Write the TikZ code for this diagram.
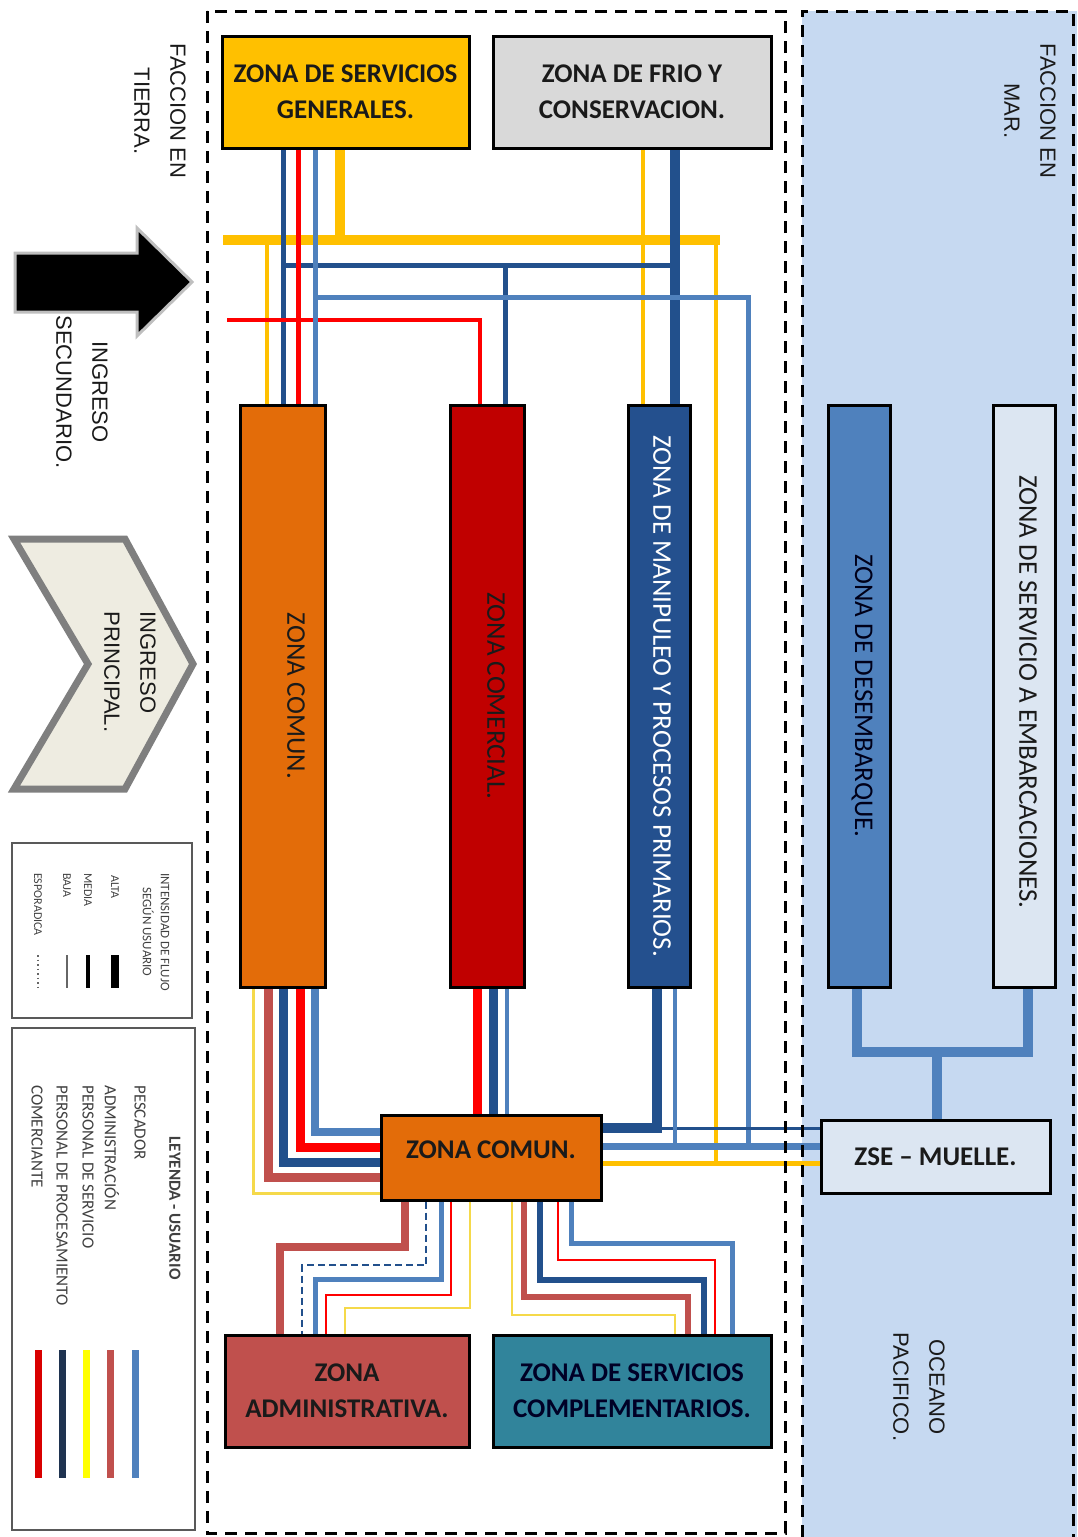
\documentclass[tikz,border=0pt]{standalone}
\usepackage{fontspec}
\setmainfont{Carlito}
\newfontfamily\arialf{Liberation Sans}
\definecolor{cnavy}{HTML}{22508C}
\definecolor{cblue}{HTML}{4F81BD}
\definecolor{cred}{HTML}{FF0000}
\definecolor{cyel}{HTML}{FFC000}
\definecolor{cyelt}{HTML}{F5D94A}
\definecolor{cbrn}{HTML}{C0504D}
\definecolor{corange}{HTML}{E36C09}
\definecolor{cdred}{HTML}{C00000}
\definecolor{cdblue}{HTML}{24508E}
\definecolor{cpale}{HTML}{DCE6F2}
\definecolor{csea}{HTML}{C6D9F1}
\definecolor{cteal}{HTML}{31849B}
\definecolor{cgrey}{HTML}{D9D9D9}
\definecolor{cchev}{HTML}{EEECE1}
\definecolor{cchevb}{HTML}{7F7F7F}
\definecolor{clegnavy}{HTML}{1F3350}
\definecolor{clegyel}{HTML}{FFFF00}
\definecolor{ctext}{HTML}{1A1A1A}
\definecolor{clegt}{HTML}{404040}
\definecolor{clegb}{HTML}{595959}
\pgfdeclarelayer{bg}
\pgfdeclarelayer{lines}
\pgfsetlayers{bg,lines,main}
\newcommand{\bxfont}{\fontsize{27}{36}\selectfont\bfseries}
\newcommand{\vxfont}{\fontsize{27}{32}\selectfont}
\newcommand{\sidefont}{\arialf\fontsize{22}{36}\selectfont}
\newcommand{\legfont}{\fontsize{17}{20}\selectfont}
\newcommand{\legsmall}{\fontsize{12}{18}\selectfont}
\newcommand{\legtitle}{\fontsize{13}{18}\selectfont}
\tikzset{
  zbox/.style={draw=black, line width=3pt, inner sep=0pt, align=center, font=\bxfont, text=ctext},
  vbox/.style={draw=black, line width=3pt, inner sep=0pt},
  vlab/.style={rotate=-90, inner sep=0pt, font=\vxfont, text=ctext},
  sidelab/.style={rotate=-90, inner sep=0pt, align=center, font=\sidefont, text=ctext},
  framedash/.style={line width=3pt, dash pattern=on 12pt off 8pt},
  legitem/.style={rotate=-90, anchor=west, inner sep=0pt, font=\legfont, text=clegt},
  legsm/.style={rotate=-90, anchor=west, inner sep=0pt, font=\legsmall, text=clegt},
  flow/.style={line join=miter, line cap=butt},
}
\begin{document}
\begin{tikzpicture}[x=1pt,y=-1pt]
\useasboundingbox (0,0) rectangle (1078,1537);

% sea background
\begin{pgfonlayer}{bg}
\fill[csea] (802,11) rectangle (1077,1537);
\end{pgfonlayer}

% ---------- boxes ----------
\node[zbox, fill=cyel, minimum width=247pt, minimum height=112pt] (zsg) at (345.5,92) {ZONA DE SERVICIOS\\GENERALES.};
\node[zbox, fill=cgrey, minimum width=278pt, minimum height=112pt] (frio) at (632,92) {ZONA DE FRIO Y\\CONSERVACION.};
\node[vbox, fill=corange, minimum width=85pt, minimum height=582pt] (zc1) at (282.5,696) {};
\node[vbox, fill=cdred, minimum width=74pt, minimum height=582pt] (zcom) at (487,696) {};
\node[vbox, fill=cdblue, minimum width=62pt, minimum height=582pt] (zman) at (659,696) {};
\node[vbox, fill=cblue, minimum width=62pt, minimum height=582pt] (zdes) at (859,696) {};
\node[vbox, fill=cpale, minimum width=62pt, minimum height=582pt] (zemb) at (1024,696) {};
\node[vlab] (zc1t) at (296,696) {ZONA COMUN.};
\node[vlab] (zcomt) at (496,696) {ZONA COMERCIAL.};
\node[vlab, text=white] (zmant) at (662,696) {ZONA DE MANIPULEO Y PROCESOS PRIMARIOS.};
\node[vlab, text=black!90!blue] (zdest) at (862,696) {ZONA DE DESEMBARQUE.};
\node[vlab] (zembt) at (1028,692) {ZONA DE SERVICIO A EMBARCACIONES.};
\node[zbox, fill=corange, minimum width=220pt, minimum height=85pt] (zc2) at (491,1157.5) {\raisebox{-1pt}[0pt][0pt]{ZONA COMUN.}};
\node[zbox, fill=cpale, minimum width=229pt, minimum height=73pt] (zse) at (935.5,1156.5) {ZSE -- MUELLE.};
\node[zbox, fill=cbrn, minimum width=244pt, minimum height=112pt] (zadm) at (347,1391) {ZONA\\ADMINISTRATIVA.};
\node[zbox, fill=cteal, minimum width=278pt, minimum height=112pt, text=black!85!blue] (zsc) at (632,1391) {ZONA DE SERVICIOS\\COMPLEMENTARIOS.};

% ---------- connectors ----------
\coordinate (entY) at (223,240);
\coordinate (entR) at (227,320);
\coordinate (sj) at (937,1052);
\begin{pgfonlayer}{lines}
\begin{scope}[flow]
% top
\draw[cyel, line width=10pt] (entY) -- (720,240);
\draw[cyel, line width=10pt] (340,0 |- zsg.south) -- (340,240);
\draw[cyel, line width=4pt] (267,240) -- (267,0 |- zc1.north);
\draw[cyel, line width=4pt] (716,240) -- (716,1163);
\draw[cyel, line width=4pt] (643,0 |- frio.south) -- (643,0 |- zman.north);
\draw[cnavy, line width=10pt] (675,0 |- frio.south) -- (675,0 |- zman.north);
\draw[cnavy, line width=5pt] (283,0 |- zsg.south) -- (283,0 |- zc1.north);
\draw[cnavy, line width=5pt] (283,265) -- (675,265);
\draw[cnavy, line width=5pt] (505,265) -- (505,0 |- zcom.north);
\draw[cred, line width=5pt] (298,0 |- zsg.south) -- (298,0 |- zc1.north);
\draw[cred, line width=4pt] (entR) -| (480,0 |- zcom.north);
\draw[cblue, line width=5pt] (315,0 |- zsg.south) -- (315,0 |- zc1.north);
\draw[cblue, line width=5pt] (315,297) -| (748,1146);
% middle
\draw[cyelt, line width=3pt] (253,0 |- zc1.south) |- (zc2.west |- 0,1193);
\draw[cbrn, line width=9pt] (268,0 |- zc1.south) |- (zc2.west |- 0,1177);
\draw[cnavy, line width=9pt] (283,0 |- zc1.south) |- (zc2.west |- 0,1162);
\draw[cred, line width=9pt] (300,0 |- zc1.south) |- (zc2.west |- 0,1147);
\draw[cblue, line width=8pt] (315,0 |- zc1.south) |- (zc2.west |- 0,1132);
\draw[cred, line width=9pt] (477,0 |- zcom.south) -- (477,0 |- zc2.north);
\draw[cnavy, line width=9pt] (493,0 |- zcom.south) -- (493,0 |- zc2.north);
\draw[cblue, line width=4pt] (507,0 |- zcom.south) -- (507,0 |- zc2.north);
\draw[cnavy, line width=10pt] (657,0 |- zman.south) |- (zc2.east |- 0,1128);
\draw[cnavy, line width=3pt] (zc2.east |- 0,1128) -- (zse.west |- 0,1128);
\draw[cblue, line width=4pt] (675,0 |- zman.south) -- (675,1146);
\draw[cblue, line width=7pt] (zc2.east |- 0,1146) -- (zse.west |- 0,1146);
\draw[cyel, line width=5pt] (zc2.east |- 0,1163) -- (zse.west |- 0,1163);
% sea
\draw[cblue, line width=10pt] (857,0 |- zdes.south) |- (sj) -| (1028,0 |- zemb.south);
\draw[cblue, line width=10pt] (sj) -- (937,0 |- zse.north);
% bottom to administrativa
\draw[cbrn, line width=8pt] (405,0 |- zc2.south) |- (280,1247) -- (280,0 |- zadm.north);
\draw[cnavy, line width=2.5pt, dash pattern=on 7pt off 4pt] (426,0 |- zc2.south) |- (302,1265) -- (302,0 |- zadm.north);
\draw[cblue, line width=5pt] (441,0 |- zc2.south) |- (315,1279) -- (315,0 |- zadm.north);
\draw[cred, line width=2.5pt] (451,0 |- zc2.south) |- (326,1295) -- (326,0 |- zadm.north);
\draw[cyelt, line width=2pt] (470,0 |- zc2.south) |- (345,1308) -- (345,0 |- zadm.north);
% bottom to servicios complementarios
\draw[cyelt, line width=2pt] (512,0 |- zc2.south) |- (675,1315) -- (675,0 |- zsc.north);
\draw[cbrn, line width=6pt] (524,0 |- zc2.south) |- (688,1297) -- (688,0 |- zsc.north);
\draw[cnavy, line width=6pt] (540,0 |- zc2.south) |- (704,1280) -- (704,0 |- zsc.north);
\draw[cred, line width=2.5pt] (558,0 |- zc2.south) |- (715,1260) -- (715,0 |- zsc.north);
\draw[cblue, line width=5pt] (571,0 |- zc2.south) |- (732,1243) -- (732,0 |- zsc.north);
\end{scope}
\end{pgfonlayer}

% ---------- frames ----------
\draw[framedash] (207,11) rectangle (785,1533);
\draw[framedash] (802,1537) -- (802,11) -- (1073,11) -- (1073,1537);

% ---------- side labels ----------
\node[sidelab] (tierra) at (160,111) {FACCION EN\\TIERRA.};
\node[sidelab] (mar) at (1030,111) {FACCION EN\\MAR.};
\node[sidelab] (oceano) at (919,1387) {OCEANO\\PACIFICO.};

% secondary entrance arrow
\draw[draw=black!25, line width=3pt, fill=black, line join=miter]
  (15,253) -- (137,253) -- (137,228) -- (192,282) -- (137,336) -- (137,312) -- (15,312) -- cycle;
\node[sidelab] (ingsec) at (82,392) {INGRESO\\SECUNDARIO.};

% main entrance chevron
\draw[draw=cchevb, line width=7pt, fill=cchev, line join=miter]
  (14,539) -- (125,539) -- (193,664) -- (125,789) -- (14,789) -- (88,664) -- cycle;
\node[sidelab, align=left] (ingpri) at (130,672) {INGRESO\\PRINCIPAL.};

% ---------- legend 1 ----------
\node[draw=clegb, line width=2.5pt, minimum width=180pt, minimum height=175pt, inner sep=0pt] (leg1) at (102,930.5) {};
\node[rotate=-90, inner sep=0pt, align=center, font=\legtitle, text=clegt] (leg1t) at (156,932) {INTENSIDAD DE FLUJO\\SEGÚN USUARIO};
\node[legsm] (lalta) at (115,875) {ALTA};
\node[legsm] (lmedia) at (88,873) {MEDIA};
\node[legsm] (lbaja) at (67,873) {BAJA};
\node[legsm] (lesp) at (38,873) {ESPORADICA};
\draw[black, line width=8pt] (115,955) -- (115,988);
\draw[black, line width=4pt] (88,955) -- (88,988);
\draw[black!60, line width=1.5pt] (67,955) -- (67,988);
\draw[black!60, line width=1.5pt, dash pattern=on 1.5pt off 3pt] (38,955) -- (38,988);

% ---------- legend 2 ----------
\node[draw=clegb, line width=2.5pt, minimum width=183pt, minimum height=502pt, inner sep=0pt] (leg2) at (103.5,1279) {};
\node[rotate=-90, inner sep=0pt, font=\legfont\bfseries, text=clegt] (leg2t) at (175,1208) {LEYENDA - USUARIO};
\node[legitem] (lpes) at (140,1085) {PESCADOR};
\node[legitem] (ladm) at (112,1085) {ADMINISTRACIÓN};
\node[legitem] (lser) at (88,1085) {PERSONAL DE SERVICIO};
\node[legitem] (lpro) at (62,1085) {PERSONAL DE PROCESAMIENTO};
\node[legitem] (lcom) at (37,1085) {COMERCIANTE};
\draw[cblue, line width=7pt] (135,1350) -- (135,1478);
\draw[cbrn, line width=7pt] (110,1350) -- (110,1478);
\draw[clegyel, line width=7pt] (86,1350) -- (86,1478);
\draw[clegnavy, line width=7pt] (62,1350) -- (62,1478);
\draw[cred!85!black, line width=7pt] (38,1350) -- (38,1478);
\end{tikzpicture}
\end{document}
